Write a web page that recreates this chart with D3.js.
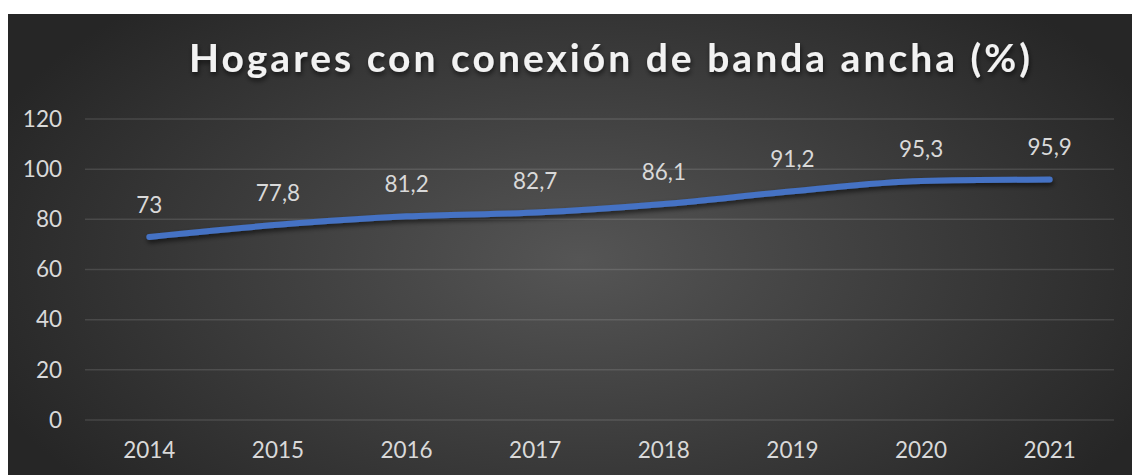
<!DOCTYPE html>
<html>
<head>
<meta charset="utf-8">
<script src="https://cdn.jsdelivr.net/npm/d3@7"></script>
<style>
  html, body { margin: 0; padding: 0; background: #fff; }
  svg { display: block; }
</style>
</head>
<body>
<div id="chart"></div>
<script>
(function () {
    'use strict';

    var years = ['2014', '2015', '2016', '2017', '2018', '2019', '2020', '2021'];
    var values = [73, 77.8, 81.2, 82.7, 86.1, 91.2, 95.3, 95.9];
    var yTicks = [0, 20, 40, 60, 80, 100, 120];
    var title = 'Hogares con conexión de banda ancha (%)';

    var width = 1132, height = 475;
    var frame = { x: 8, y: 14 };
    var plot = { left: 85, right: 1114, top: 119, bottom: 420 };
    var font = 'Lato, "Open Sans", sans-serif';

    var svg = d3.select('#chart')
        .append('svg')
        .attr('width', width)
        .attr('height', height);

    var defs = svg.append('defs');

    var bg = defs.append('radialGradient')
        .attr('id', 'bg')
        .attr('gradientUnits', 'userSpaceOnUse')
        .attr('cx', 580).attr('cy', 260)
        .attr('r', 640)
        .attr('gradientTransform', 'translate(580,260) scale(1,0.55) translate(-580,-260)');
    bg.append('stop').attr('offset', '0%').attr('stop-color', '#555555');
    bg.append('stop').attr('offset', '100%').attr('stop-color', '#262626');

    var shadow = defs.append('filter')
        .attr('id', 'shadow')
        .attr('x', '-10%').attr('y', '-50%')
        .attr('width', '120%').attr('height', '200%');
    shadow.append('feDropShadow')
        .attr('dx', 1).attr('dy', 3)
        .attr('stdDeviation', 2.5)
        .attr('flood-color', '#000')
        .attr('flood-opacity', 0.6);

    svg.append('rect')
        .attr('x', frame.x).attr('y', frame.y)
        .attr('width', width - frame.x)
        .attr('height', height - frame.y)
        .style('fill', 'url(#bg)');

    var x = d3.scaleBand()
        .domain(years)
        .range([plot.left, plot.right]);

    var y = d3.scaleLinear()
        .domain([0, 120])
        .range([plot.bottom, plot.top]);

    // gridlines
    svg.append('g')
        .selectAll('line')
        .data(yTicks)
        .enter()
        .append('line')
        .attr('x1', plot.left).attr('x2', plot.right)
        .attr('y1', function (d) { return y(d); })
        .attr('y2', function (d) { return y(d); })
        .style('stroke', 'rgba(255,255,255,0.12)')
        .style('stroke-width', 1.5);

    // y axis
    var yAxis = svg.append('g')
        .attr('transform', 'translate(62,0)')
        .call(d3.axisLeft(y).tickValues(yTicks).tickSize(0).tickPadding(0));
    yAxis.select('.domain').remove();
    yAxis.selectAll('text')
        .style('font-family', font)
        .style('font-size', '22.5px')
        .style('fill', '#d9d9d9');

    // x axis
    var xAxis = svg.append('g')
        .attr('transform', 'translate(0,' + 437 + ')')
        .call(d3.axisBottom(x).tickSize(0).tickPadding(0));
    xAxis.select('.domain').remove();
    xAxis.selectAll('text')
        .attr('dy', '0.95em')
        .style('font-family', font)
        .style('font-size', '22.5px')
        .style('fill', '#d9d9d9');

    var points = years.map(function (yr, i) {
        return { year: yr, value: values[i] };
    });

    var line = d3.line()
        .x(function (d) { return x(d.year) + x.bandwidth() / 2; })
        .y(function (d) { return y(d.value); })
        .curve(d3.curveMonotoneX);

    svg.append('path')
        .datum(points)
        .attr('d', line)
        .attr('filter', 'url(#shadow)')
        .style('fill', 'none')
        .style('stroke', '#4472c4')
        .style('stroke-width', 6)
        .style('stroke-linecap', 'round')
        .style('stroke-linejoin', 'round');

    // data labels
    svg.append('g')
        .selectAll('text')
        .data(points)
        .enter()
        .append('text')
        .attr('x', function (d) { return x(d.year) + x.bandwidth() / 2; })
        .attr('y', function (d) { return y(d.value) - 24; })
        .attr('text-anchor', 'middle')
        .style('font-family', font)
        .style('font-size', '22.5px')
        .style('fill', '#d9d9d9')
        .text(function (d) { return String(d.value).replace('.', ','); });

    // title
    svg.append('text')
        .attr('x', 189)
        .attr('y', 72)
        .attr('textLength', 841)
        .attr('lengthAdjust', 'spacing')
        .style('font-family', font)
        .style('font-weight', 'bold')
        .style('font-size', '39px')
        .style('fill', '#f2f2f2')
        .attr('filter', 'url(#shadow)')
        .text(title);
}());
</script>
</body>
</html>
